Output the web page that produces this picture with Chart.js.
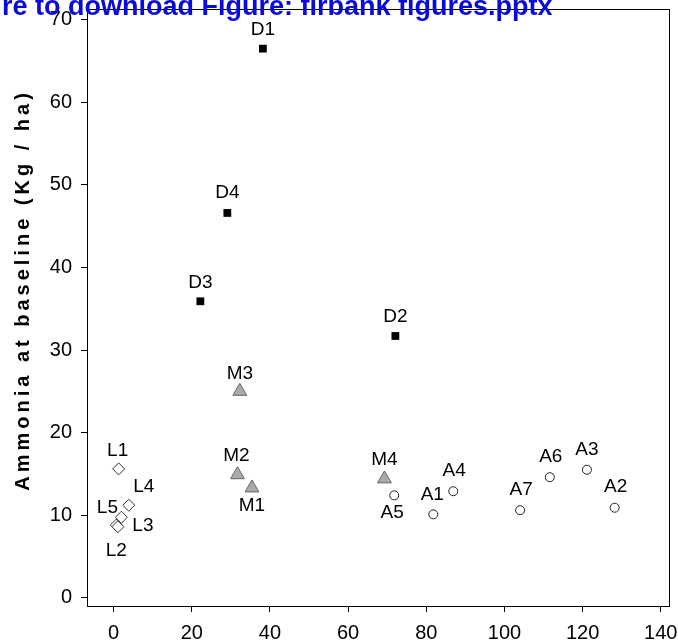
<!DOCTYPE html>
<html>
<head>
<meta charset="utf-8">
<script src="https://cdn.jsdelivr.net/npm/chart.js@4/dist/chart.umd.min.js"></script>
<style>
  html, body { margin: 0; padding: 0; background: #fff; }
  #wrap { width: 678px; height: 643px; position: relative; }
</style>
</head>
<body>
<div id="wrap"><canvas id="c"></canvas></div>
<script>
const FONT = "'Liberation Sans', Arial, Helvetica, sans-serif";

// D sites
const dSites = ['D1', 'D2', 'D3', 'D4'];
const dDistance = [38.2, 72.1, 22.2, 29.1];
const dAmmonia = [66.5, 31.7, 35.9, 46.6];

// M sites
const mSites = ['M1', 'M2', 'M3', 'M4'];
const mDistance = [35.4, 31.7, 32.3, 69.3];
const mAmmonia = [13.3, 14.9, 25.0, 14.4];

// A sites
const aSites = ['A1', 'A2', 'A3', 'A4', 'A5', 'A6', 'A7'];
const aDistance = [81.8, 128.2, 121.1, 86.9, 71.8, 111.6, 104.0];
const aAmmonia = [10.1, 10.9, 15.5, 12.9, 12.4, 14.6, 10.6];

// L sites
const lSites = ['L1', 'L2', 'L3', 'L4', 'L5'];
const lDistance = [1.3, 0.7, 1.1, 3.9, 2.0];
const lAmmonia = [15.6, 8.8, 8.6, 11.2, 9.75];

const xTicks = [0, 20, 40, 60, 80, 100, 120, 140];
const yTicks = [0, 10, 20, 30, 40, 50, 60, 70];
const yTitle = 'Ammonia at baseline (Kg / ha)';
const bannerText = 're to download Figure: firbank figures.pptx';

// where each site name sits relative to its marker, in pixels
const labelShift = {
  D1: [0, -19], D2: [0, -19], D3: [0, -19], D4: [0, -20],
  M1: [0, 18], M2: [-1, -19], M3: [0, -18], M4: [0, -19],
  A1: [-1, -20], A2: [1, -21], A3: [0, -20], A4: [1, -20],
  A5: [-2, 17], A6: [1, -20], A7: [1, -20],
  L1: [-1, -18], L2: [0, 26], L3: [25, -1], L4: [15, -18], L5: [-14, -9]
};

const toPoints = (xs, ys) => xs.map((x, i) => ({ x: x, y: ys[i] }));

const pointLabels = {
  id: 'pointLabels',
  afterDatasetsDraw(chart) {
    const ctx = chart.ctx;
    ctx.save();
    ctx.font = '19px ' + FONT;
    ctx.fillStyle = '#000';
    ctx.textAlign = 'center';
    ctx.textBaseline = 'middle';
    chart.data.datasets.forEach((ds, i) => {
      chart.getDatasetMeta(i).data.forEach((el, j) => {
        const name = ds.siteNames[j];
        const s = labelShift[name] || [0, -19];
        ctx.fillText(name, el.x + s[0], el.y + s[1]);
      });
    });
    ctx.restore();
  }
};

const frameAndText = {
  id: 'frameAndText',
  afterDraw(chart) {
    const ctx = chart.ctx;
    const a = chart.chartArea;
    ctx.save();
    // plot frame
    ctx.strokeStyle = '#000';
    ctx.lineWidth = 1;
    ctx.strokeRect(Math.round(a.left) + 0.5, Math.round(a.top) + 0.5,
                   Math.round(a.right - a.left), Math.round(a.bottom - a.top));
    // rotated, letter-spaced y-axis title
    ctx.translate(29, 290);
    ctx.rotate(-Math.PI / 2);
    ctx.font = 'bold 20px ' + FONT;
    ctx.letterSpacing = '4px';
    ctx.fillStyle = '#000';
    ctx.textAlign = 'center';
    ctx.textBaseline = 'alphabetic';
    ctx.fillText(yTitle, 0, 0);
    ctx.restore();
    // banner link text along the top edge
    ctx.save();
    ctx.font = 'bold 27px ' + FONT;
    ctx.fillStyle = '#0b0bd6';
    ctx.textAlign = 'left';
    ctx.textBaseline = 'alphabetic';
    ctx.fillText(bannerText, 2, 15);
    ctx.restore();
  }
};

new Chart(document.getElementById('c'), {
  type: 'scatter',
  data: {
    datasets: [
      {
        siteNames: aSites,
        data: toPoints(aDistance, aAmmonia),
        pointStyle: 'circle', pointRadius: 4.5,
        backgroundColor: '#fff', borderColor: '#222', borderWidth: 1
      },
      {
        siteNames: lSites,
        data: toPoints(lDistance, lAmmonia),
        pointStyle: 'rectRot', pointRadius: 6,
        backgroundColor: '#fff', borderColor: '#333', borderWidth: 1
      },
      {
        siteNames: mSites,
        data: toPoints(mDistance, mAmmonia),
        pointStyle: 'triangle', pointRadius: 8,
        backgroundColor: '#a9a9a9', borderColor: '#666', borderWidth: 1
      },
      {
        siteNames: dSites,
        data: toPoints(dDistance, dAmmonia),
        pointStyle: 'rect', pointRadius: 5.5,
        backgroundColor: '#000', borderColor: '#000', borderWidth: 0
      }
    ]
  },
  options: {
    responsive: true,
    maintainAspectRatio: false,
    animation: false,
    events: [],
    layout: { padding: { left: 0, top: 5, right: 8, bottom: 0 } },
    plugins: { legend: { display: false }, tooltip: { enabled: false } },
    scales: {
      x: {
        type: 'linear',
        min: -6.8, max: 142.1,
        afterBuildTicks: s => { s.ticks = xTicks.map(v => ({ value: v })); },
        afterFit: s => { s.height = 37; s.paddingLeft = 0; s.paddingRight = 0; },
        border: { display: false },
        grid: { drawOnChartArea: false, drawTicks: true, tickLength: 6, color: '#000', lineWidth: 1 },
        ticks: { color: '#000', font: { family: FONT, size: 20 }, padding: 9, maxRotation: 0, autoSkip: false }
      },
      y: {
        type: 'linear',
        min: -1, max: 71.3,
        afterBuildTicks: s => { s.ticks = yTicks.map(v => ({ value: v })); },
        afterFit: s => { s.width = 87; s.paddingTop = 0; s.paddingBottom = 0; },
        border: { display: false },
        grid: { drawOnChartArea: false, drawTicks: true, tickLength: 6, color: '#000', lineWidth: 1 },
        ticks: { color: '#000', font: { family: FONT, size: 20 }, padding: 9, autoSkip: false }
      }
    }
  },
  plugins: [pointLabels, frameAndText]
});
</script>
</body>
</html>
